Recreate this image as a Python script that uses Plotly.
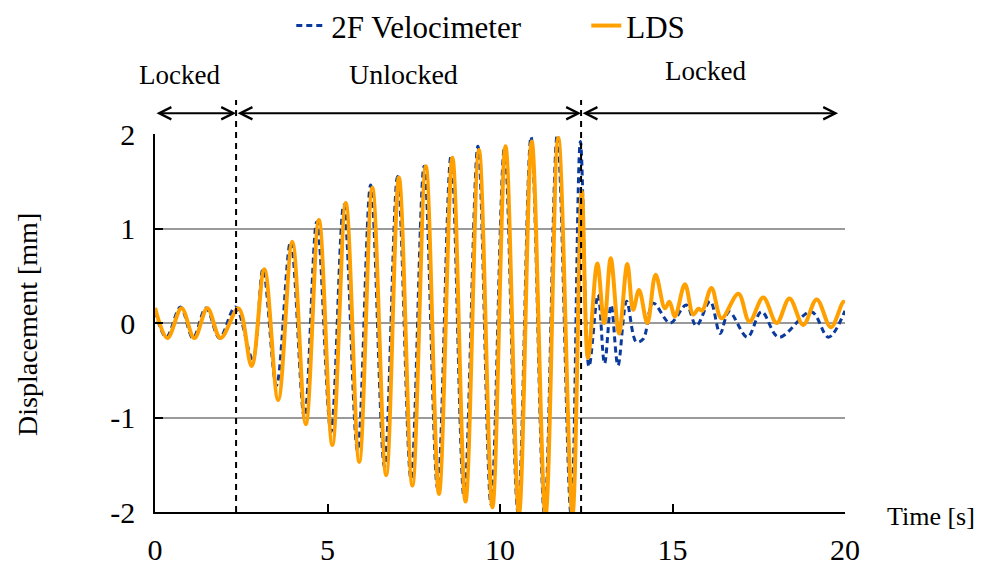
import plotly.graph_objects as go

# ---- data ----
vel_t = [0.00, 0.33, 0.74, 1.10, 1.48, 1.87, 2.33, 2.83, 3.13, 3.52, 3.93, 4.33, 4.69,
         5.10, 5.47, 5.87, 6.25, 6.65, 7.03, 7.42, 7.80, 8.19, 8.58, 8.96, 9.36, 9.74,
         10.13, 10.52, 10.90, 11.29, 11.66, 12.06, 12.33, 12.58, 12.84, 13.03, 13.22,
         13.42, 13.67, 13.95, 14.15, 14.44, 14.93, 15.40, 15.69, 16.09, 16.38, 16.64,
         17.17, 17.58, 18.08, 19.02, 19.52, 20.00]
vel_y = [0.13, -0.15, 0.17, -0.16, 0.16, -0.16, 0.17, -0.38, 0.57, -0.66, 0.86, -1.00, 1.07,
         -1.15, 1.25, -1.35, 1.46, -1.52, 1.55, -1.65, 1.66, -1.75, 1.77, -1.85, 1.87, -1.92,
         1.86, -2.00, 1.97, -2.03, 1.99, -2.03, 1.92, -0.46, 0.30, -0.43, 0.19,
         -0.45, 0.23, -0.20, -0.17, 0.21, 0.00, 0.19, -0.03, 0.23, -0.11, 0.12,
         -0.15, 0.12, -0.15, 0.12, -0.15, 0.13]

lds_t = [0.00, 0.36, 0.77, 1.14, 1.52, 1.90, 2.42, 2.80, 3.17, 3.57, 3.98, 4.37, 4.75,
         5.14, 5.53, 5.92, 6.30, 6.70, 7.07, 7.46, 7.85, 8.23, 8.62, 9.00, 9.39, 9.78,
         10.16, 10.55, 10.92, 11.32, 11.69, 12.10, 12.37, 12.55, 12.82, 13.02, 13.21,
         13.45, 13.69, 13.86, 14.03, 14.27, 14.51, 14.78, 14.91, 15.07, 15.36, 15.60,
         15.75, 15.86, 16.13, 16.42, 16.91, 17.23, 17.63, 18.02, 18.39, 18.79, 19.18,
         19.59, 19.95, 20.00]
lds_y = [0.16, -0.16, 0.155, -0.16, 0.155, -0.16, 0.155, -0.455, 0.57, -0.815, 0.86, -1.07, 1.09,
         -1.29, 1.27, -1.47, 1.43, -1.61, 1.54, -1.72, 1.66, -1.81, 1.75, -1.89, 1.83, -1.95,
         1.87, -2.02, 1.92, -2.03, 1.96, -2.03, 1.39, -0.37, 0.63, 0.00, 0.685,
         -0.11, 0.625, 0.14, 0.35, 0.00, 0.51, 0.155, 0.225, 0.07, 0.41, 0.09,
         0.15, 0.13, 0.37, 0.05, 0.31, 0.015, 0.27, 0.00, 0.26, -0.02, 0.25,
         -0.045, 0.225, 0.21]

switch_times = [2.35, 12.35]          # lock / unlock switching instants [s]
phase_names = ["Locked", "Unlocked", "Locked"]
phase_bounds = [0.0, 2.35, 12.35, 19.8]

x_ticks = [0, 5, 10, 15, 20]
x_tick_text = ["0", "5", "10", "15", "20"]
y_ticks = [-2, -1, 0, 1, 2]
y_tick_text = ["-2", "-1", "0", "1", "2"]

SERIF = "Liberation Serif, Times New Roman, serif"
BLUE = "#0a3a9c"
ORANGE = "#ffa000"

fig = go.Figure()
fig.add_trace(go.Scatter(x=vel_t, y=vel_y, mode="lines", name="2F Velocimeter",
                         line=dict(color=BLUE, width=3, dash="6px,4px", shape="spline", smoothing=1.0)))
fig.add_trace(go.Scatter(x=lds_t, y=lds_y, mode="lines", name="LDS",
                         line=dict(color=ORANGE, width=4, shape="spline", smoothing=1.0)))

# vertical dashed switching lines
for ts in switch_times:
    fig.add_shape(type="line", xref="x", yref="paper", x0=ts, x1=ts, y0=0, y1=1.09,
                  line=dict(color="black", width=2, dash="6px,5px"), layer="above")

# double-headed arrows for the phases
for i in range(len(phase_names)):
    fig.add_annotation(x=phase_bounds[i + 1], y=1.055, ax=phase_bounds[i], ay=0,
                       xref="x", yref="paper", axref="x", ayref="pixel", text="",
                       showarrow=True, arrowside="end+start", arrowhead=5, arrowsize=1.2,
                       arrowwidth=2, arrowcolor="black", standoff=0, startstandoff=0)

label_x = [0.72, 7.2, 15.95]
label_y = [1.155, 1.158, 1.166]
label_size = [27, 28, 27]
for name, lx, ly, ls in zip(phase_names, label_x, label_y, label_size):
    fig.add_annotation(x=lx, y=ly, xref="x", yref="paper", text=name, showarrow=False,
                       xanchor="center", yanchor="middle",
                       font=dict(family=SERIF, size=ls, color="black"))

fig.add_annotation(x=-0.184, y=0.495, xref="paper", yref="paper", text="Displacement [mm]",
                   textangle=-90, showarrow=False, xanchor="center", yanchor="middle",
                   font=dict(family=SERIF, size=28, color="black"))
fig.add_annotation(x=1.125, y=-0.011, xref="paper", yref="paper", text="Time [s]",
                   showarrow=False, xanchor="center", yanchor="middle",
                   font=dict(family=SERIF, size=26, color="black"))

fig.update_layout(
    width=982, height=565,
    margin=dict(l=155, r=137, t=134, b=53, autoexpand=False),
    paper_bgcolor="white", plot_bgcolor="white",
    font=dict(family=SERIF, size=30, color="black"),
    showlegend=True,
    legend=dict(orientation="h", x=0.1975, y=1.286, xanchor="left", yanchor="middle",
                entrywidth=250, entrywidthmode="pixels",
                font=dict(family=SERIF, size=31, color="black"), bgcolor="rgba(0,0,0,0)"),
    xaxis=dict(range=[0, 20], tickvals=x_ticks, ticktext=x_tick_text, showgrid=False,
               zeroline=False, showline=True, linecolor="black", linewidth=1.5,
               ticks="inside", ticklen=8, tickcolor="black", tickwidth=1.5, automargin=False,
               ticklabelstandoff=10, tickfont=dict(family=SERIF, size=30)),
    yaxis=dict(range=[-2, 2], tickvals=y_ticks, ticktext=y_tick_text, showgrid=True,
               gridcolor="#9a9a9a", gridwidth=1.5, zeroline=False, showline=True,
               linecolor="black", linewidth=1.5, ticks="inside", ticklen=8, automargin=False,
               tickcolor="black", tickwidth=1.5, ticklabelstandoff=12,
               tickfont=dict(family=SERIF, size=30)),
)

fig.write_html("out.html")
